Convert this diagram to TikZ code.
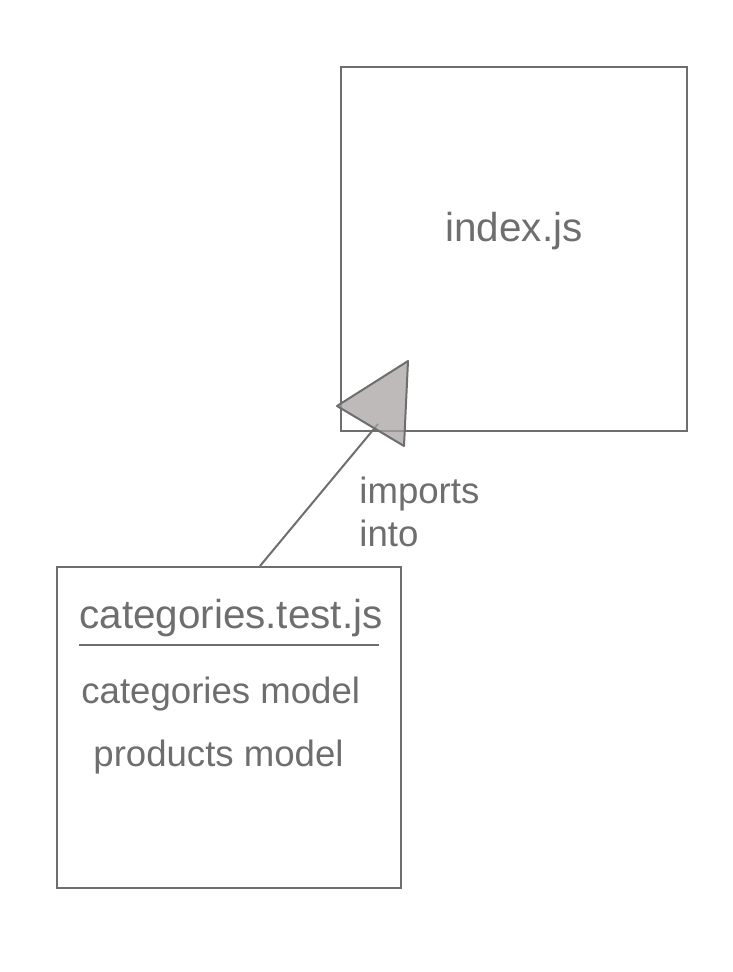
\documentclass[tikz,border=0pt]{standalone}
\usepackage{fontspec}
\setmainfont{Liberation Sans}
\usepackage{xcolor}
\definecolor{ink}{HTML}{6E6E6E}
\definecolor{headfill}{HTML}{A8A3A3}
\usetikzlibrary{positioning}

\begin{document}
\begin{tikzpicture}[x=0.5pt,y=-0.5pt,inner sep=0pt,
  box/.style={draw=ink,line width=1pt,rectangle},
  txt/.style={text=ink,font=\fontsize{18.3pt}{20pt}\selectfont},
  big/.style={text=ink,font=\fontsize{20.2pt}{24pt}\selectfont}]
\useasboundingbox (0,0) rectangle (732,972);

\node[box,minimum width=173pt,minimum height=182pt] (index) at (514,249) {};
\node[box,minimum width=172pt,minimum height=160.5pt] (test) at (229,727.5) {};

\node[big,anchor=base] (indexname) at (514,242) {index.js};
\node[big,anchor=base west] (testname) at (79,628) {categories.test.js};
\node[txt,anchor=base west] (catmodel) at (81,703) {categories model};
\node[txt,anchor=base west] (prodmodel) at (93,766) {products model};
\node[txt,anchor=base west] (imports) at (359,503) {imports};
\node[txt,anchor=base west] (into) at (359,546) {into};

\coordinate (tip) at (378,424);
\coordinate (under1) at (79,645);
\coordinate (under2) at (379,645);

\draw[ink,line width=1pt] (under1) -- (under2);
\path (test.north) ++(15.5pt,0) coordinate (from);
\draw[ink,line width=1pt] (from) -- (tip);
\filldraw[draw=ink,fill=headfill,fill opacity=0.75,line width=1pt,line join=round]
  (337,406) -- (408,361) -- (404,446) -- cycle;
\end{tikzpicture}
\end{document}
